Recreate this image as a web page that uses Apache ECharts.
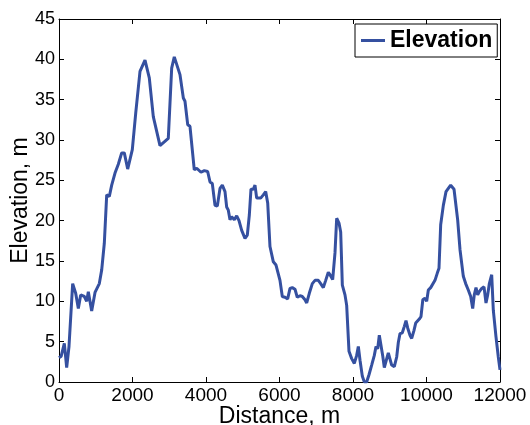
<!DOCTYPE html>
<html>
<head>
<meta charset="utf-8">
<script src="https://cdn.jsdelivr.net/npm/echarts@6/dist/echarts.min.js"></script>
<style>
html,body{margin:0;padding:0;background:#fff;}
#c{width:530px;height:425px;}
</style>
</head>
<body>
<div id="c"></div>
<script>
const seriesName = 'Elevation';
const xTicks = [0, 2000, 4000, 6000, 8000, 10000, 12000];
const yTicks = [0, 5, 10, 15, 20, 25, 30, 35, 40, 45];
const distance = [0, 60, 145, 209, 272, 372, 454, 526, 590, 689, 753, 798, 889, 980, 1097, 1162, 1233, 1298, 1369, 1434, 1478, 1524, 1614, 1706, 1777, 1869, 1995, 2087, 2204, 2340, 2457, 2566, 2748, 2974, 3066, 3137, 3292, 3383, 3428, 3502, 3564, 3681, 3747, 3791, 3864, 3954, 4045, 4109, 4172, 4245, 4308, 4381, 4444, 4517, 4562, 4607, 4653, 4698, 4771, 4835, 4898, 4971, 5061, 5124, 5179, 5224, 5287, 5333, 5379, 5424, 5488, 5560, 5624, 5679, 5741, 5832, 5905, 5950, 6013, 6076, 6149, 6222, 6286, 6348, 6422, 6484, 6558, 6620, 6694, 6740, 6811, 6893, 6966, 7056, 7121, 7192, 7257, 7328, 7374, 7447, 7510, 7556, 7619, 7665, 7710, 7782, 7828, 7891, 7964, 8036, 8100, 8145, 8191, 8254, 8309, 8372, 8435, 8508, 8580, 8626, 8671, 8716, 8762, 8807, 8852, 8898, 8961, 9007, 9052, 9124, 9189, 9233, 9279, 9342, 9397, 9442, 9488, 9551, 9597, 9660, 9706, 9760, 9804, 9850, 9900, 9959, 10005, 10050, 10114, 10168, 10231, 10294, 10340, 10386, 10458, 10531, 10594, 10658, 10703, 10749, 10794, 10848, 10912, 11002, 11066, 11137, 11203, 11257, 11300, 11347, 11393, 11437, 11502, 11565, 11619, 11665, 11710, 11774, 11818, 11891, 11954, 12000];
const elevation = [3.0, 3.2, 4.8, 1.8, 4.4, 12.2, 11.0, 9.1, 10.8, 10.6, 10.0, 11.2, 8.8, 11.1, 12.2, 13.9, 17.2, 23.2, 23.0, 24.4, 24.6, 25.9, 27.0, 28.4, 28.4, 26.4, 28.8, 33.3, 38.5, 39.9, 37.7, 32.9, 29.3, 30.2, 38.9, 40.3, 38.1, 35.2, 34.8, 31.9, 31.7, 26.3, 26.5, 26.4, 26.0, 26.2, 26.1, 24.8, 24.6, 21.9, 21.8, 24.0, 24.4, 23.6, 21.7, 21.3, 20.1, 20.5, 20.1, 20.6, 20.0, 18.8, 17.8, 18.2, 20.7, 23.9, 23.9, 24.4, 22.8, 22.6, 22.8, 23.2, 23.6, 22.2, 16.8, 14.9, 14.5, 14.3, 12.6, 10.6, 10.5, 10.3, 11.6, 11.7, 11.5, 10.5, 10.7, 10.6, 10.2, 9.8, 11.0, 12.2, 12.6, 12.6, 12.2, 11.7, 12.6, 13.6, 13.3, 12.7, 16.0, 20.3, 19.7, 18.6, 12.0, 10.8, 9.5, 3.8, 2.9, 2.3, 3.3, 4.4, 2.7, 0.7, 0, 0, 0.9, 2.1, 3.3, 4.4, 4.1, 5.8, 5.6, 3.3, 1.8, 1.9, 3.6, 3.5, 2.1, 1.9, 3.1, 4.9, 6.0, 6.1, 6.9, 7.6, 6.7, 5.8, 5.4, 6.4, 7.3, 7.3, 7.8, 8.1, 10.2, 10.4, 10.0, 11.4, 11.7, 11.7, 12.6, 13.5, 14.1, 19.5, 21.9, 23.6, 24.0, 24.4, 24.4, 23.9, 23.7, 20.1, 16.4, 13.1, 12.2, 11.4, 10.6, 9.1, 10.8, 11.7, 10.8, 11.2, 11.6, 11.8, 9.8, 10.8, 12.2, 13.3, 8.9, 5.6, 3.1, 1.5];

const FONT = "'Liberation Sans', Arial, sans-serif";
const data = distance.map((d, i) => [d, elevation[i]]);
const xStep = xTicks[1] - xTicks[0];
const yStep = yTicks[1] - yTicks[0];

const axisCommon = {
  axisLine: { show: true, onZero: false, lineStyle: { color: '#000', width: 1 } },
  axisTick: { show: true, inside: true, length: 5, lineStyle: { color: '#000' } },
  splitLine: { show: false }
};

const chart = echarts.init(document.getElementById('c'), null, { renderer: 'canvas' });
chart.setOption({
  animation: false,
  backgroundColor: '#fff',
  grid: { left: 59, right: 30, top: 19, bottom: 43, containLabel: false, outerBoundsMode: 'none' },
  legend: {
    data: [seriesName],
    left: 355, top: 24,
    padding: [5, 5, 5, 6],
    borderColor: '#000', borderWidth: 1,
    backgroundColor: '#fff',
    icon: 'rect', itemWidth: 24, itemHeight: 3,
    textStyle: { fontFamily: FONT, fontSize: 23, fontWeight: 'bold', color: '#000' }
  },
  xAxis: [
    Object.assign({
      type: 'value', position: 'bottom',
      min: xTicks[0], max: xTicks[xTicks.length - 1], interval: xStep,
      name: 'Distance, m', nameLocation: 'middle', nameGap: 23, nameMoveOverlap: false,
      nameTextStyle: { fontFamily: FONT, fontSize: 23, color: '#000' },
      axisLabel: { fontFamily: FONT, fontSize: 19, color: '#000', margin: 4, formatter: v => String(v) }
    }, axisCommon),
    Object.assign({
      type: 'value', position: 'top',
      min: xTicks[0], max: xTicks[xTicks.length - 1], interval: xStep,
      axisLabel: { show: false }
    }, axisCommon)
  ],
  yAxis: [
    Object.assign({
      type: 'value', position: 'left',
      min: yTicks[0], max: yTicks[yTicks.length - 1], interval: yStep,
      name: 'Elevation, m', nameLocation: 'middle', nameGap: 27, nameMoveOverlap: false,
      nameTextStyle: { fontFamily: FONT, fontSize: 23, color: '#000' },
      axisLabel: { fontFamily: FONT, fontSize: 18, color: '#000', margin: 4, formatter: v => String(v) }
    }, axisCommon),
    Object.assign({
      type: 'value', position: 'right',
      min: yTicks[0], max: yTicks[yTicks.length - 1], interval: yStep,
      axisLabel: { show: false }
    }, axisCommon)
  ],
  series: [{
    name: seriesName,
    type: 'line',
    xAxisIndex: 0, yAxisIndex: 0,
    data: data,
    showSymbol: false,
    symbol: 'none',
    smooth: false,
    lineStyle: { color: '#3550a0', width: 3 },
    itemStyle: { color: '#3550a0' }
  }]
});
</script>
</body>
</html>
